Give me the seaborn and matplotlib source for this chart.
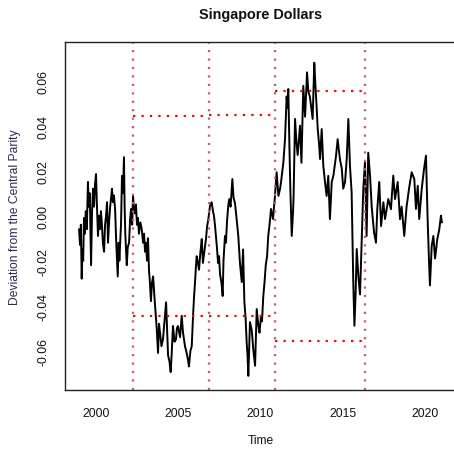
import numpy as np
import pandas as pd
import matplotlib
matplotlib.use("Agg")
import matplotlib.pyplot as plt
import seaborn as sns

# ---- data ----
years = [
    1998.97, 1999.03, 1999.08, 1999.13, 1999.18, 1999.22, 1999.27, 1999.32, 1999.38, 1999.44,
    1999.51, 1999.56, 1999.62, 1999.70, 1999.76, 1999.82, 1999.88, 1999.94, 2000.00, 2000.05,
    2000.12, 2000.18, 2000.24, 2000.30, 2000.36, 2000.42, 2000.49, 2000.55, 2000.61, 2000.67,
    2000.73, 2000.80, 2000.86, 2000.92, 2000.97, 2001.03, 2001.09, 2001.16, 2001.22, 2001.27,
    2001.32, 2001.38, 2001.42, 2001.46, 2001.52, 2001.58, 2001.64, 2001.70, 2001.74, 2001.78,
    2001.83, 2001.87, 2001.93, 2002.01, 2002.07, 2002.13, 2002.20, 2002.25, 2002.31, 2002.37,
    2002.43, 2002.49, 2002.55, 2002.61, 2002.70, 2002.78, 2002.86, 2002.92, 2002.98, 2003.04,
    2003.10, 2003.16, 2003.22, 2003.28, 2003.34, 2003.40, 2003.47, 2003.59, 2003.69, 2003.77,
    2003.83, 2003.89, 2003.98, 2004.07, 2004.16, 2004.26, 2004.32, 2004.38, 2004.47, 2004.54,
    2004.61, 2004.68, 2004.77, 2004.86, 2004.92, 2004.98, 2005.11, 2005.21, 2005.29, 2005.41,
    2005.51, 2005.59, 2005.65, 2005.74, 2005.82, 2005.90, 2005.96, 2006.02, 2006.08, 2006.12,
    2006.20, 2006.26, 2006.35, 2006.43, 2006.50, 2006.60, 2006.69, 2006.75, 2006.83, 2006.93,
    2007.03, 2007.11, 2007.17, 2007.23, 2007.29, 2007.35, 2007.42, 2007.48, 2007.54, 2007.63,
    2007.70, 2007.75, 2007.84, 2007.90, 2007.96, 2008.04, 2008.10, 2008.18, 2008.29, 2008.36,
    2008.45, 2008.55, 2008.65, 2008.75, 2008.86, 2008.94, 2009.02, 2009.09, 2009.16, 2009.21,
    2009.26, 2009.31, 2009.36, 2009.47, 2009.56, 2009.67, 2009.77, 2009.87, 2009.94, 2010.03,
    2010.09, 2010.17, 2010.24, 2010.32, 2010.40, 2010.47, 2010.55, 2010.64, 2010.76, 2010.88,
    2010.98, 2011.09, 2011.19, 2011.25, 2011.39, 2011.49, 2011.55, 2011.59, 2011.64, 2011.69,
    2011.76, 2011.82, 2011.90, 2011.98, 2012.01, 2012.10, 2012.19, 2012.26, 2012.40, 2012.49,
    2012.60, 2012.71, 2012.83, 2012.91, 2013.00, 2013.17, 2013.27, 2013.34, 2013.40, 2013.48,
    2013.56, 2013.62, 2013.72, 2013.82, 2013.92, 2014.02, 2014.12, 2014.22, 2014.33, 2014.43,
    2014.59, 2014.69, 2014.83, 2014.94, 2015.03, 2015.14, 2015.24, 2015.34, 2015.44, 2015.54,
    2015.64, 2015.71, 2015.78, 2015.85, 2015.95, 2016.05, 2016.15, 2016.25, 2016.35, 2016.45,
    2016.55, 2016.66, 2016.76, 2016.90, 2017.02, 2017.10, 2017.22, 2017.33, 2017.47, 2017.57,
    2017.77, 2017.93, 2018.07, 2018.18, 2018.34, 2018.48, 2018.58, 2018.74, 2018.88, 2019.03,
    2019.19, 2019.35, 2019.45, 2019.56, 2019.65, 2019.80, 2019.94, 2020.06, 2020.16, 2020.24,
    2020.30, 2020.41, 2020.51, 2020.61, 2020.75, 2020.87, 2020.97, 2021.03,
]
deviation = [
    -0.006, -0.013, -0.004, -0.028, -0.015, -0.020, -0.001, -0.008, 0.002, -0.006,
    0.015, 0.004, 0.010, -0.022, 0.002, 0.012, 0.004, 0.014, 0.0185, 0.006,
    -0.009, 0.000, -0.006, 0.002, -0.004, -0.012, -0.016, -0.004, 0.000, 0.006,
    -0.012, -0.002, 0.004, 0.008, 0.012, 0.006, 0.009, 0.003, -0.010, -0.018,
    -0.027, -0.012, -0.020, -0.014, -0.004, 0.0177, 0.010, 0.026, 0.004, -0.008,
    -0.016, -0.022, -0.014, -0.012, -0.002, 0.003, -0.004, 0.0088, 0.003, 0.001,
    0.005, -0.004, -0.001, -0.008, -0.003, -0.006, -0.012, -0.008, -0.016, -0.012,
    -0.020, -0.010, -0.024, -0.030, -0.038, -0.030, -0.027, -0.040, -0.050, -0.061,
    -0.048, -0.052, -0.058, -0.055, -0.047, -0.0385, -0.050, -0.062, -0.065, -0.0695,
    -0.060, -0.049, -0.056, -0.055, -0.050, -0.049, -0.054, -0.0445, -0.052, -0.058,
    -0.061, -0.064, -0.067, -0.060, -0.058, -0.0445, -0.036, -0.0295, -0.022, -0.018,
    -0.021, -0.024, -0.016, -0.0104, -0.021, -0.015, -0.010, -0.005, -0.0015, 0.0044,
    0.006, 0.002, 0.000, -0.004, -0.009, -0.014, -0.021, -0.018, -0.026, -0.030,
    -0.0357, -0.020, -0.009, -0.012, -0.003, 0.0044, 0.0074, 0.004, 0.0163, 0.008,
    0.0055, -0.0015, -0.009, -0.021, -0.0295, -0.015, -0.0385, -0.045, -0.0563, -0.062,
    -0.0712, -0.060, -0.0473, -0.051, -0.0593, -0.0667, -0.0415, -0.049, -0.052, -0.0445,
    -0.047, -0.0357, -0.030, -0.022, -0.018, -0.009, -0.004, 0.003, -0.0015, 0.0088,
    0.0193, 0.0088, 0.012, 0.015, 0.0237, 0.034, 0.045, 0.053, 0.048, 0.0563,
    0.030, 0.010, -0.009, 0.002, 0.008, 0.043, 0.032, 0.027, 0.040, 0.0235,
    0.0577, 0.044, 0.0637, 0.055, 0.053, 0.043, 0.068, 0.0577, 0.050, 0.0385,
    0.032, 0.0252, 0.0385, 0.022, 0.015, 0.0088, 0.0177, -0.0015, 0.015, 0.0177,
    0.0265, 0.034, 0.025, 0.021, 0.012, 0.015, 0.025, 0.043, 0.022, 0.0105,
    -0.0295, -0.0489, -0.035, -0.0148, -0.027, -0.035, -0.012, 0.012, 0.0237, -0.009,
    0.028, 0.0177, 0.004, -0.0073, -0.012, 0.0029, 0.015, -0.0046, 0.006, -0.0015,
    0.0074, 0.0029, 0.0178, 0.0074, 0.015, -0.0015, 0.004, -0.009, 0.004, 0.012,
    0.0193, 0.0163, 0.003, 0.0133, -0.0015, 0.0118, 0.0207, 0.0267, -0.0015, -0.0193,
    -0.031, -0.0133, -0.009, -0.019, -0.0104, -0.006, 0.000, -0.003,
]

# regime break dates and band limits
breaks = [2002.27, 2006.89, 2010.90, 2016.33]
band_start = [2002.27, 2006.89, 2010.90]
band_end = [2006.89, 2010.90, 2016.33]
band_upper = [0.0442, 0.0448, 0.0553]
band_lower = [-0.0444, -0.0444, -0.0556]

x_ticks = [2000, 2005, 2010, 2015, 2020]
y_ticks = [-0.06, -0.04, -0.02, 0.00, 0.02, 0.04, 0.06]
y_ticklabels = ["-0.06", "-0.04", "-0.02", "0.00", "0.02", "0.04", "0.06"]

title = "Singapore Dollars"
xlabel = "Time"
ylabel = "Deviation from the Central Parity"

# ---- plotting ----
sns.set_style("white")
plt.rcParams["font.family"] = ["Liberation Sans", "DejaVu Sans"]

W, H = 454, 452
fig = plt.figure(figsize=(W / 100, H / 100), dpi=100)
left_px, right_px, top_px, bottom_px = 65, 456, 43, 391
ax = fig.add_axes([left_px / W, 1 - bottom_px / H,
                   (right_px - left_px) / W, (bottom_px - top_px) / H])

df = pd.DataFrame({"Time": years, "Deviation": deviation})
sns.lineplot(data=df, x="Time", y="Deviation", ax=ax, color="black",
             linewidth=1.4, estimator=None, sort=False)

dot = (0, (1.0, 2.8))
for b in breaks:
    ax.axvline(b, color="#DF536B", linestyle=dot, linewidth=1.6)
for s, e, u, l in zip(band_start, band_end, band_upper, band_lower):
    ax.plot([s, e], [u, u], color="#FF0000", linestyle=dot, linewidth=1.6)
    ax.plot([s, e], [l, l], color="#FF0000", linestyle=dot, linewidth=1.6)

ax.set_xlim(1998.115, 2021.885)
ax.set_ylim(-0.07747, 0.0772)
ax.set_xticks(x_ticks)
ax.set_xticklabels([str(t) for t in x_ticks], fontsize=8.7)
ax.set_yticks(y_ticks)
ax.set_yticklabels(y_ticklabels, fontsize=8.7, rotation=90, va="center")
ax.tick_params(axis="both", direction="out", length=5, width=0.8, color="black",
               pad=6, labelcolor="#111111")
ax.tick_params(axis="x", pad=7)
for side in ["left", "bottom", "top"]:
    ax.spines[side].set_color("#222222")
    ax.spines[side].set_linewidth(1.0)
ax.spines["right"].set_visible(False)

ax.set_xlabel("")
ax.set_ylabel("")
fig.text(260.5 / W, 1 - 15 / H, title, ha="center", va="center",
         fontsize=10.4, fontweight="bold", color="#111111")
fig.text(260.5 / W, 1 - 441 / H, xlabel, ha="center", va="center",
         fontsize=8.7, color="#111111")
fig.text(15 / W, 1 - 217 / H, ylabel, ha="center", va="center",
         fontsize=8.7, rotation=90, color="#2a2a5a")

fig.savefig("out.png", dpi=100)
